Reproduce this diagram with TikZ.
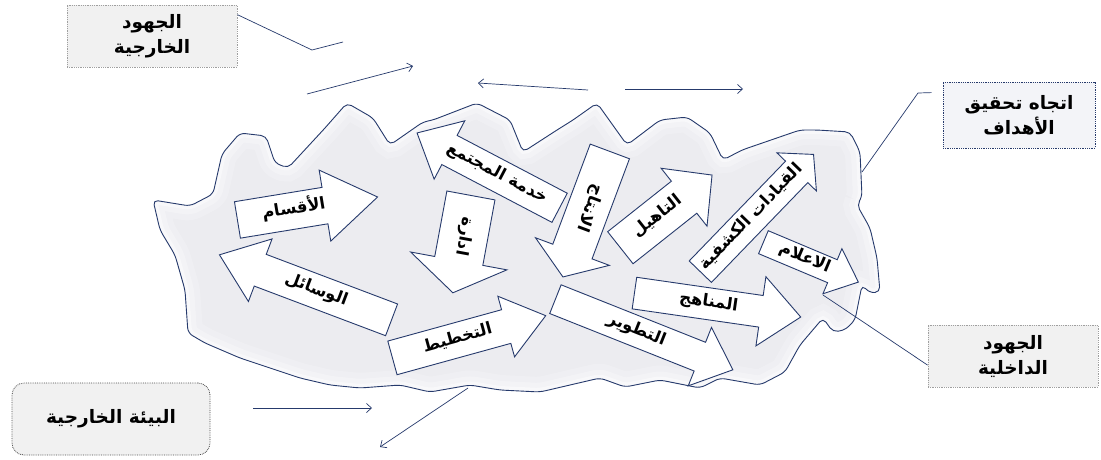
\documentclass[tikz,border=0pt]{standalone}
\usepackage{fontspec}
\usetikzlibrary{shapes.arrows,arrows.meta,calc}
\TeXXeTstate=1
\newfontfamily\arb[Script=Arabic]{DejaVu Sans}
\newcommand\arT[1]{\beginR #1\endR}
\definecolor{navy}{RGB}{38,58,108}
\definecolor{cloudfill}{RGB}{236,236,240}
\definecolor{boxfill}{RGB}{241,241,241}
\definecolor{boxfillb}{RGB}{243,244,248}
\newcommand\cloudshape[1]{\path[#1,rounded corners=5pt] (153,200) -- (190,206) -- (213,194) -- (222,154) -- (240,133) -- (266,136) -- (275,163) -- (288,168) -- (325,128) -- (347,103) -- (373,118) -- (390,145) -- (423,122) -- (433,120) -- (477,103) -- (510,120) -- (523,152) -- (557,130) -- (573,120) -- (597,103) -- (627,145) -- (660,120) -- (687,117) -- (710,133) -- (723,160) -- (742,150) -- (800,130) -- (817,130) -- (850,132) -- (860,152) -- (862,197) -- (857,205) -- (870,228) -- (877,258) -- (880,292) -- (870,293) -- (862,285) -- (855,320) -- (845,330) -- (833,332) -- (823,318) -- (800,345) -- (785,372) -- (760,385) -- (720,378) -- (700,388) -- (660,380) -- (625,387) -- (600,378) -- (570,385) -- (540,392) -- (500,390) -- (470,385) -- (430,392) -- (400,385) -- (360,388) -- (330,385) -- (300,378) -- (270,368) -- (240,358) -- (205,343) -- (188,333) -- (185,290) -- (175,255) -- (160,230) -- cycle;}
\tikzset{
  blk/.style={single arrow, draw=navy, fill=white, line width=0.9pt,
    font=\arb\bfseries\fontsize{16.5}{19}\selectfont, text height=9pt, text depth=3pt,
    inner xsep=3pt, anchor=tail},
  cbox/.style={draw=gray!75, densely dotted, line width=0.8pt, fill=boxfill,
    font=\arb\bfseries\fontsize{18.5}{25}\selectfont, align=center, inner sep=2pt},
  conn/.style={draw=navy, line width=0.7pt},
  arr/.style={conn, -{Straight Barb[length=5pt,width=9pt]}}
}
\begin{document}
\begin{tikzpicture}[x=1pt,y=-1pt]
\useasboundingbox[fill=white] (0,0) rectangle (1101,459);
% cloud
\cloudshape{fill=cloudfill}
\begin{scope}
  \cloudshape{clip}
  \cloudshape{draw=white,line width=30pt,opacity=0.2}
  \cloudshape{draw=white,line width=18pt,opacity=0.3}
  \cloudshape{draw=white,line width=8pt,opacity=0.45}
\end{scope}
\cloudshape{draw=navy,line width=0.9pt}

% block arrows (placed by their tail)
\node[blk, rotate=9.3, minimum height=142pt, single arrow head extend=17.5pt, single arrow tip angle=68, inner ysep=12pt] (aqsam) at (237,220) {\arT{الأقسام}};
\node[blk, rotate=-20.7, shape border rotate=180, minimum height=184pt, single arrow head extend=16.5pt, single arrow tip angle=75, inner ysep=10.5pt] (wasail) at (392,320) {\arT{الوسائل}};
\node[blk, rotate=-27.7, shape border rotate=180, minimum height=161pt, single arrow head extend=16.5pt, single arrow tip angle=84, inner ysep=10pt] (khidma) at (560,208) {\arT{خدمة المجتمع}};
\node[blk, rotate=-100.5, minimum height=99pt, single arrow head extend=24.5pt, single arrow tip angle=113, inner ysep=18pt] (idara) at (471,195) {\arT{ادارة}};
\node[blk, rotate=-110.5, minimum height=134pt, single arrow head extend=18.5pt, single arrow tip angle=111, inner ysep=14.5pt] (intaj) at (610,151) {\arT{الانتاج}};
\node[blk, rotate=38.4, minimum height=117pt, single arrow head extend=16.5pt, single arrow tip angle=92, inner ysep=14pt] (taahil) at (620,248) {\arT{التاهيل}};
\node[blk, rotate=46, minimum height=163pt, single arrow head extend=12pt, single arrow tip angle=97, inner ysep=9pt] (qiyadat) at (700,272) {\arT{القيادات الكشفية}};
\node[blk, rotate=-22.8, minimum height=103pt, single arrow head extend=12pt, single arrow tip angle=82, inner ysep=6pt] (ilam) at (763,242) {\arT{الاعلام}};
\node[blk, rotate=-8.2, minimum height=168pt, single arrow head extend=19pt, single arrow tip angle=82, inner ysep=9.5pt] (manahij) at (634,293) {\arT{المناهج}};
\node[blk, rotate=-21.7, minimum height=191pt, single arrow head extend=16pt, single arrow tip angle=83, inner ysep=9pt] (tatwir) at (555,299) {\arT{التطوير}};
\node[blk, rotate=15.4, minimum height=159pt, single arrow head extend=14pt, single arrow tip angle=75, inner ysep=11pt] (takhtit) at (392,358) {\arT{التخطيط}};

% corner boxes
\node[cbox, minimum width=170pt, minimum height=62pt] (jext) at (152,36) {\arT{الجهود}\\\arT{الخارجية}};
\node[cbox, draw=navy, fill=boxfillb, minimum width=152pt, minimum height=66pt] (goal) at (1019,115) {\arT{اتجاه تحقيق}\\\arT{الأهداف}};
\node[cbox, minimum width=170pt, minimum height=62pt] (jint) at (1013,356) {\arT{الجهود}\\\arT{الداخلية}};
\node[cbox, draw=gray!60!black, rounded corners=12pt, minimum width=198pt, minimum height=72pt] (env) at (111,419) {\arT{البيئة الخارجية}};

% connectors
\coordinate (e1) at (343,42);
\draw[conn] ($(jext.north east)!0.16!(jext.south east)$) -- (312,50) -- (e1);
\coordinate (a1s) at (307,94); \coordinate (a1e) at (413,66);
\draw[arr] (a1s) -- (a1e);
\coordinate (a2s) at (588,90); \coordinate (a2e) at (478,83);
\draw[arr] (a2s) -- (a2e);
\coordinate (a3s) at (625,89); \coordinate (a3e) at (743,89);
\draw[arr] (a3s) -- (a3e);
\coordinate (g1) at (862,172);
\draw[conn] ($(goal.north west)+(-11,11)$) -- (918,93) -- (g1);
\coordinate (i1) at (823,295);
\draw[conn] ($(jint.north west)!0.645!(jint.south west)$) -- (i1);
\coordinate (b1s) at (253,408); \coordinate (b1e) at (372,408);
\draw[arr] (b1s) -- (b1e);
\coordinate (b2s) at (468,388); \coordinate (b2e) at (380,447);
\draw[arr] (b2s) -- (b2e);
\end{tikzpicture}
\end{document}
